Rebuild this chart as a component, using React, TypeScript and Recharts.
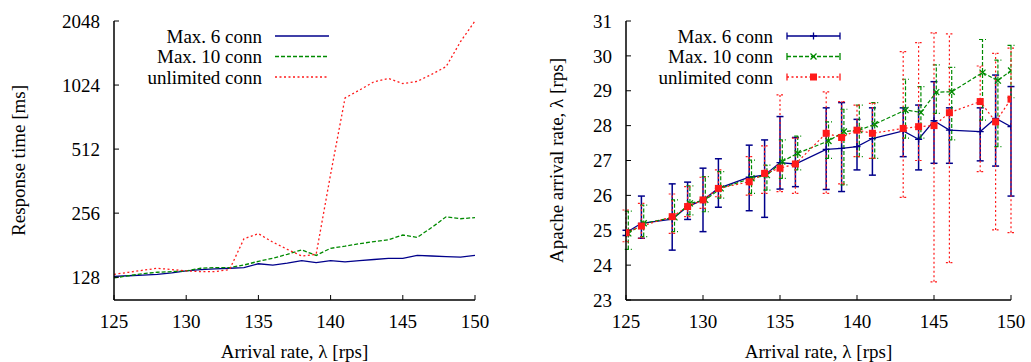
import React from 'react';
import { LineChart, Line, XAxis, YAxis, ErrorBar, Legend, Label } from 'recharts';

// left panel: response time (log scale) for each arrival rate
const rates = [125, 126, 127, 128, 129, 130, 131, 132, 133, 134, 135, 136, 137, 138, 139, 140, 141, 142, 143, 144, 145, 146, 147, 148, 149, 150];
const respMax6 = [129, 130, 131, 132, 134, 137, 139, 140, 141, 142, 148, 146, 149, 153, 150, 153, 151, 153, 155, 157, 157, 162, 161, 160, 159, 162];
const respMax10 = [127, 130, 133, 135, 136, 137, 141, 142, 142, 146, 152, 157, 164, 172, 162, 175, 179, 184, 188, 192, 202, 197, 219, 246, 241, 244];
const respUnlimited = [132, 135, 138, 141, 139, 137, 136, 136, 139, 194, 205, 187, 173, 161, 164, 390, 890, 970, 1060, 1100, 1040, 1065, 1150, 1250, 1640, 2048];
const respTicks = [128, 256, 512, 1024, 2048];
const rateTicks = [125, 130, 135, 140, 145, 150];

// right panel: measured apache arrival rate, mean with min/max
const measuredRates = [125, 126, 128, 129, 130, 131, 133, 134, 135, 136, 138, 139, 140, 141, 143, 144, 145, 146, 148, 149, 150];
const max10Rates = [125.15, 126.15, 128.15, 129.15, 130.15, 131.15, 133.15, 134.15, 135.15, 136.15, 138.15, 139.15, 140.15, 141.15, 143.15, 144.15, 145.15, 146.15, 148.15, 149.15, 150];
const apacheMax6 = [24.93, 25.2, 25.32, 25.68, 25.87, 26.2, 26.52, 26.58, 26.94, 26.9, 27.32, 27.35, 27.4, 27.63, 27.85, 27.61, 28.14, 27.87, 27.83, 28.21, 27.97];
const apacheMax6Low = [24.85, 24.77, 24.43, 25.31, 24.96, 25.66, 25.56, 25.37, 26.18, 26.25, 26.17, 26.11, 26.73, 26.58, 27.11, 26.73, 26.92, 26.92, 26.99, 26.84, 25.98];
const apacheMax6High = [25.0, 25.98, 26.33, 26.38, 26.78, 27.05, 27.44, 27.59, 28.26, 27.66, 28.51, 28.66, 28.18, 28.51, 28.51, 28.59, 29.26, 28.51, 28.51, 29.45, 29.12];
const apacheMax10 = [24.91, 25.2, 25.37, 25.77, 25.87, 26.2, 26.49, 26.58, 26.97, 27.21, 27.56, 27.83, 27.87, 28.04, 28.45, 28.38, 28.96, 28.97, 29.52, 29.29, 29.58];
const apacheMax10Low = [24.45, 24.82, 24.96, 25.44, 25.53, 25.92, 26.06, 26.15, 26.49, 26.73, 27.06, 26.3, 27.11, 27.06, 27.64, 27.64, 28.35, 27.59, 28.16, 27.4, 28.8];
const apacheMax10High = [25.55, 25.72, 25.87, 26.27, 26.54, 26.68, 27.01, 26.87, 27.59, 27.7, 28.11, 28.47, 28.59, 28.66, 29.33, 29.12, 29.74, 29.67, 30.47, 29.88, 30.3];
const apacheUnlimited = [24.93, 25.12, 25.39, 25.68, 25.87, 26.2, 26.39, 26.63, 26.78, 26.9, 27.78, 27.66, 27.87, 27.78, 27.92, 27.97, 28.0, 28.37, 28.69, 28.11, 28.76];
const apacheUnlimitedLow = [24.67, 24.77, 24.91, 25.39, 25.63, 25.96, 26.01, 26.06, 26.11, 26.06, 26.06, 26.33, 27.11, 27.06, 25.94, 27.0, 23.52, 24.07, 26.68, 25.01, 24.93];
const apacheUnlimitedHigh = [25.58, 25.77, 26.04, 26.25, 26.52, 26.73, 27.11, 27.42, 28.88, 27.64, 28.97, 28.69, 28.59, 28.64, 30.12, 30.38, 30.66, 30.63, 29.71, 30.07, 30.22];
const apacheTicks = [23, 24, 25, 26, 27, 28, 29, 30, 31];

const seriesNames = ['Max. 6 conn', 'Max. 10 conn', 'unlimited conn'];

const BLUE = '#00008b';
const GREEN = '#008a00';
const RED = '#ff1a1a';
const serif = '"Liberation Serif", "Times New Roman", serif';
const axisStyle = { stroke: '#000', strokeWidth: 1.5 };
const tickLineStyle = { stroke: '#000', strokeWidth: 1 };
const tickFont = { fontSize: 19, fill: '#000', fontFamily: serif };

const responseRows = rates.map((rate, i) => ({
  rate,
  max6: respMax6[i],
  max10: respMax10[i],
  unlimited: respUnlimited[i],
}));

const withErr = (xs: number[], vs: number[], lo: number[], hi: number[]) =>
  xs.map((rate, i) => ({ rate, v: vs[i], err: [vs[i] - lo[i], hi[i] - vs[i]] }));

const max6Rows = withErr(measuredRates, apacheMax6, apacheMax6Low, apacheMax6High);
const max10Rows = withErr(max10Rates, apacheMax10, apacheMax10Low, apacheMax10High);
const unlimitedRows = withErr(measuredRates, apacheUnlimited, apacheUnlimitedLow, apacheUnlimitedHigh);

const plus = (cx: number, cy: number, color: string, key?: any) => (
  <path key={key} d={`M${cx - 3.5},${cy}h7M${cx},${cy - 3.5}v7`} stroke={color} strokeWidth={1.3} fill="none" />
);
const cross = (cx: number, cy: number, color: string, key?: any) => (
  <path key={key} d={`M${cx - 3},${cy - 3}l6,6M${cx - 3},${cy + 3}l6,-6`} stroke={color} strokeWidth={1.3} fill="none" />
);
const square = (cx: number, cy: number, color: string, key?: any) => (
  <rect key={key} x={cx - 3.5} y={cy - 3.5} width={7} height={7} fill={color} />
);

const PlusDot = (p: any) => (p.cx == null ? null : plus(p.cx, p.cy, BLUE, p.key ?? p.index));
const CrossDot = (p: any) => (p.cx == null ? null : cross(p.cx, p.cy, GREEN, p.key ?? p.index));
const SquareDot = (p: any) => (p.cx == null ? null : square(p.cx, p.cy, RED, p.key ?? p.index));

const legendRows = [
  { name: seriesNames[0], color: BLUE, dash: undefined, marker: plus },
  { name: seriesNames[1], color: GREEN, dash: '4 2', marker: cross },
  { name: seriesNames[2], color: RED, dash: '2 2.5', marker: square },
];
const rowY = [36, 56.5, 77];

function ResponseLegend() {
  return (
    <svg width={520} height={100} style={{ display: 'block' }}>
      {legendRows.map((r, i) => (
        <g key={r.name}>
          <text x={262} y={rowY[i]} textAnchor="end" dominantBaseline="central" fontSize={19} fontFamily={serif} fill="#000">
            {r.name}
          </text>
          <line x1={275} x2={329} y1={rowY[i]} y2={rowY[i]} stroke={r.color} strokeWidth={1.3} strokeDasharray={r.dash} />
        </g>
      ))}
    </svg>
  );
}

function ApacheLegend() {
  return (
    <svg width={511} height={100} style={{ display: 'block' }}>
      {legendRows.map((r, i) => (
        <g key={r.name}>
          <text x={253} y={rowY[i]} textAnchor="end" dominantBaseline="central" fontSize={19} fontFamily={serif} fill="#000">
            {r.name}
          </text>
          <line x1={267} x2={320} y1={rowY[i]} y2={rowY[i]} stroke={r.color} strokeWidth={1.3} strokeDasharray={r.dash} />
          <line x1={267} x2={267} y1={rowY[i] - 3.5} y2={rowY[i] + 3.5} stroke={r.color} strokeWidth={1.3} />
          <line x1={320} x2={320} y1={rowY[i] - 3.5} y2={rowY[i] + 3.5} stroke={r.color} strokeWidth={1.3} />
          {r.marker(293.5, rowY[i], r.color)}
        </g>
      ))}
    </svg>
  );
}

const axisTitle = (text: string, x: number, y: number, rotate = false) => () => (
  <text
    x={x}
    y={y}
    textAnchor="middle"
    dominantBaseline="central"
    transform={rotate ? `rotate(-90 ${x} ${y})` : undefined}
    fontSize={19}
    fontFamily={serif}
    fill="#000"
  >
    {text}
  </text>
);

function ResponseChart() {
  return (
    <LineChart width={520} height={362} data={responseRows} margin={{ top: 21, right: 45, bottom: 12, left: 54 }}>
      <XAxis
        dataKey="rate"
        type="number"
        domain={[125, 150]}
        ticks={rateTicks}
        allowDataOverflow
        height={50}
        tickSize={-5}
        tickMargin={20}
        axisLine={axisStyle}
        tickLine={tickLineStyle}
        tick={tickFont}
      >
        <Label content={axisTitle('Arrival rate, λ [rps]', 294.5, 351)} />
      </XAxis>
      <XAxis
        xAxisId="top"
        orientation="top"
        type="number"
        domain={[125, 150]}
        ticks={rateTicks}
        allowDataOverflow
        height={0}
        tickSize={-5}
        tick={false}
        axisLine={axisStyle}
        tickLine={tickLineStyle}
      />
      <YAxis
        type="number"
        scale="log"
        domain={[100, 2048]}
        ticks={respTicks}
        allowDataOverflow
        width={60}
        tickSize={-5}
        tickMargin={19}
        axisLine={axisStyle}
        tickLine={tickLineStyle}
        tick={tickFont}
      >
        <Label content={axisTitle('Response time [ms]', 18, 160.5, true)} />
      </YAxis>
      <YAxis yAxisId="right" orientation="right" type="number" domain={[0, 1]} width={0} tick={false} tickLine={false} axisLine={axisStyle} />
      <Legend
        layout="vertical"
        align="center"
        verticalAlign="middle"
        wrapperStyle={{ left: 0, top: 0, width: 520, height: 100 }}
        content={() => <ResponseLegend />}
      />
      <Line type="linear" dataKey="max6" name={seriesNames[0]} stroke={BLUE} strokeWidth={1.3} dot={false} isAnimationActive={false} />
      <Line type="linear" dataKey="max10" name={seriesNames[1]} stroke={GREEN} strokeWidth={1.3} strokeDasharray="4 2" dot={false} isAnimationActive={false} />
      <Line type="linear" dataKey="unlimited" name={seriesNames[2]} stroke={RED} strokeWidth={1.3} strokeDasharray="2 2.5" dot={false} isAnimationActive={false} />
    </LineChart>
  );
}

function ApacheChart() {
  return (
    <LineChart width={511} height={362} margin={{ top: 21, right: 20, bottom: 12, left: 46 }}>
      <XAxis
        dataKey="rate"
        type="number"
        domain={[125, 150]}
        ticks={rateTicks}
        allowDataOverflow
        height={50}
        tickSize={-5}
        tickMargin={20}
        axisLine={axisStyle}
        tickLine={tickLineStyle}
        tick={tickFont}
      >
        <Label content={axisTitle('Arrival rate, λ [rps]', 298.5, 351)} />
      </XAxis>
      <XAxis
        xAxisId="top"
        orientation="top"
        type="number"
        domain={[125, 150]}
        ticks={rateTicks}
        allowDataOverflow
        height={0}
        tickSize={-5}
        tick={false}
        axisLine={axisStyle}
        tickLine={tickLineStyle}
      />
      <YAxis
        type="number"
        domain={[23, 31]}
        ticks={apacheTicks}
        allowDataOverflow
        width={60}
        tickSize={-5}
        tickMargin={19}
        axisLine={axisStyle}
        tickLine={tickLineStyle}
        tick={tickFont}
      >
        <Label content={axisTitle('Apache arrival rate, λ [rps]', 36, 160.5, true)} />
      </YAxis>
      <YAxis yAxisId="right" orientation="right" type="number" domain={[0, 1]} width={0} tick={false} tickLine={false} axisLine={axisStyle} />
      <Legend
        layout="vertical"
        align="center"
        verticalAlign="middle"
        wrapperStyle={{ left: 0, top: 0, width: 511, height: 100 }}
        content={() => <ApacheLegend />}
      />
      <Line data={max6Rows} type="linear" dataKey="v" name={seriesNames[0]} stroke={BLUE} strokeWidth={1.3} dot={PlusDot} isAnimationActive={false}>
        <ErrorBar dataKey="err" direction="y" width={3.5} stroke={BLUE} strokeWidth={1.5} />
      </Line>
      <Line data={max10Rows} type="linear" dataKey="v" name={seriesNames[1]} stroke={GREEN} strokeWidth={1.2} strokeDasharray="4 2" dot={CrossDot} isAnimationActive={false}>
        <ErrorBar dataKey="err" direction="y" width={3.5} stroke={GREEN} strokeWidth={1.2} strokeDasharray="4 2" />
      </Line>
      <Line data={unlimitedRows} type="linear" dataKey="v" name={seriesNames[2]} stroke={RED} strokeWidth={1.2} strokeDasharray="2 2.5" dot={SquareDot} isAnimationActive={false}>
        <ErrorBar dataKey="err" direction="y" width={3.5} stroke={RED} strokeWidth={1.2} strokeDasharray="2 2.5" />
      </Line>
    </LineChart>
  );
}

export default function App() {
  return (
    <div style={{ position: 'absolute', left: 0, top: 0, width: 1031, height: 362, background: '#fff' }}>
      <div style={{ position: 'absolute', left: 0, top: 0 }}>
        <ResponseChart />
      </div>
      <div style={{ position: 'absolute', left: 520, top: 0 }}>
        <ApacheChart />
      </div>
    </div>
  );
}
